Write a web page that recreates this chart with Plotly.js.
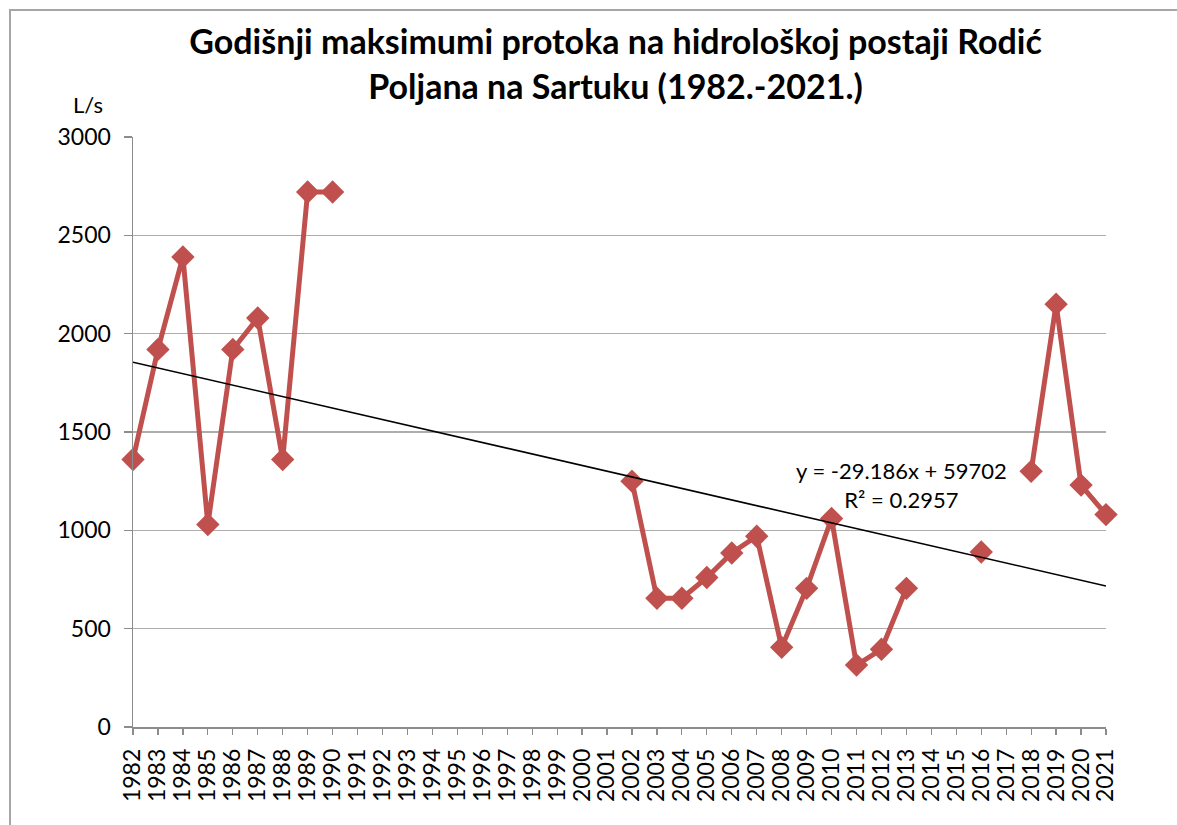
<!DOCTYPE html>
<html>
<head>
<meta charset="utf-8">
<script src="https://cdn.plot.ly/plotly-3.0.1.min.js"></script>
<style>
  html, body { margin: 0; padding: 0; background: #fff; }
  #wrap { position: relative; width: 1177px; height: 825px; overflow: hidden; }
  #frame { position: absolute; left: 9px; top: 9px; width: 1200px; height: 900px; border: 2px solid #a6a6a6; box-sizing: border-box; pointer-events: none; }
  #chart { position: absolute; left: 0; top: 0; width: 1177px; height: 825px; }
</style>
</head>
<body>
<div id="wrap">
  <div id="chart"></div>
  <div id="frame"></div>
</div>
<script>
const years = [1982,1983,1984,1985,1986,1987,1988,1989,1990,1991,1992,1993,1994,1995,1996,1997,1998,1999,2000,2001,2002,2003,2004,2005,2006,2007,2008,2009,2010,2011,2012,2013,2014,2015,2016,2017,2018,2019,2020,2021];
const maxFlow = [1360,1920,2390,1030,1920,2080,1360,2720,2720,null,null,null,null,null,null,null,null,null,null,null,1250,655,655,760,885,970,405,705,1060,315,395,705,null,null,890,null,1300,2150,1230,1080];
const trendX = [1982, 2021];
const trendY = [1855, 717];
const yTicks = [0,500,1000,1500,2000,2500,3000];
const titleText = 'Godišnji maksimumi protoka na hidrološkoj postaji Rodić<br>Poljana na Sartuku (1982.-2021.)';
const unitLabel = 'L/s';
const trendLabel = 'y = -29.186x + 59702<br>R² = 0.2957';

const font = 'Lato, "Open Sans", sans-serif';

const traces = [
  {
    x: years, y: maxFlow, type: 'scatter', mode: 'lines+markers',
    connectgaps: false, cliponaxis: false,
    line: {color: '#C0504D', width: 5},
    marker: {symbol: 'diamond', size: 18, color: '#C0504D', line: {width: 0}},
    hoverinfo: 'x+y', showlegend: false
  },
  {
    x: trendX, y: trendY, type: 'scatter', mode: 'lines',
    line: {color: '#000000', width: 1.6},
    hoverinfo: 'skip', showlegend: false
  }
];

const layout = {
  width: 1177, height: 825,
  margin: {l: 133, r: 71, t: 137, b: 98},
  paper_bgcolor: '#ffffff', plot_bgcolor: '#ffffff',
  font: {family: font, color: '#000', size: 20},
  title: {
    text: titleText,
    font: {family: font, size: 34, color: '#000', weight: 700},
    x: 0.523, xanchor: 'center', y: 0.934, yanchor: 'middle'
  },
  xaxis: {
    range: [1982, 2021], tickmode: 'array', tickvals: years, ticktext: years.map(String),
    tickangle: -90, showgrid: false, zeroline: false,
    showline: true, linecolor: '#8c8c8c', linewidth: 1.5,
    ticks: 'outside', ticklen: 6, tickcolor: '#8c8c8c', tickwidth: 1.2,
    ticklabelstandoff: 5,
    tickfont: {family: font, size: 23, color: '#000'}
  },
  yaxis: {
    range: [0, 3000], tickmode: 'array', tickvals: yTicks,
    showgrid: true, gridcolor: '#adadad', gridwidth: 1.5, zeroline: false,
    showline: true, linecolor: '#8c8c8c', linewidth: 1.5,
    ticks: 'outside', ticklen: 8, tickcolor: '#8c8c8c', tickwidth: 1.2,
    ticklabelstandoff: 8,
    tickfont: {family: font, size: 23, color: '#000'}
  },
  annotations: [
    {text: unitLabel, xref: 'paper', yref: 'paper', x: -0.046, y: 1.055, xanchor: 'center', yanchor: 'middle', showarrow: false, font: {family: font, size: 22, color: '#000'}},
    {text: trendLabel, xref: 'x', yref: 'y', x: 2012.8, y: 1230, xanchor: 'center', yanchor: 'middle', showarrow: false, align: 'center', font: {family: font, size: 22, color: '#000'}}
  ]
};

Plotly.newPlot('chart', traces, layout, {displayModeBar: false, staticPlot: true});
</script>
</body>
</html>
